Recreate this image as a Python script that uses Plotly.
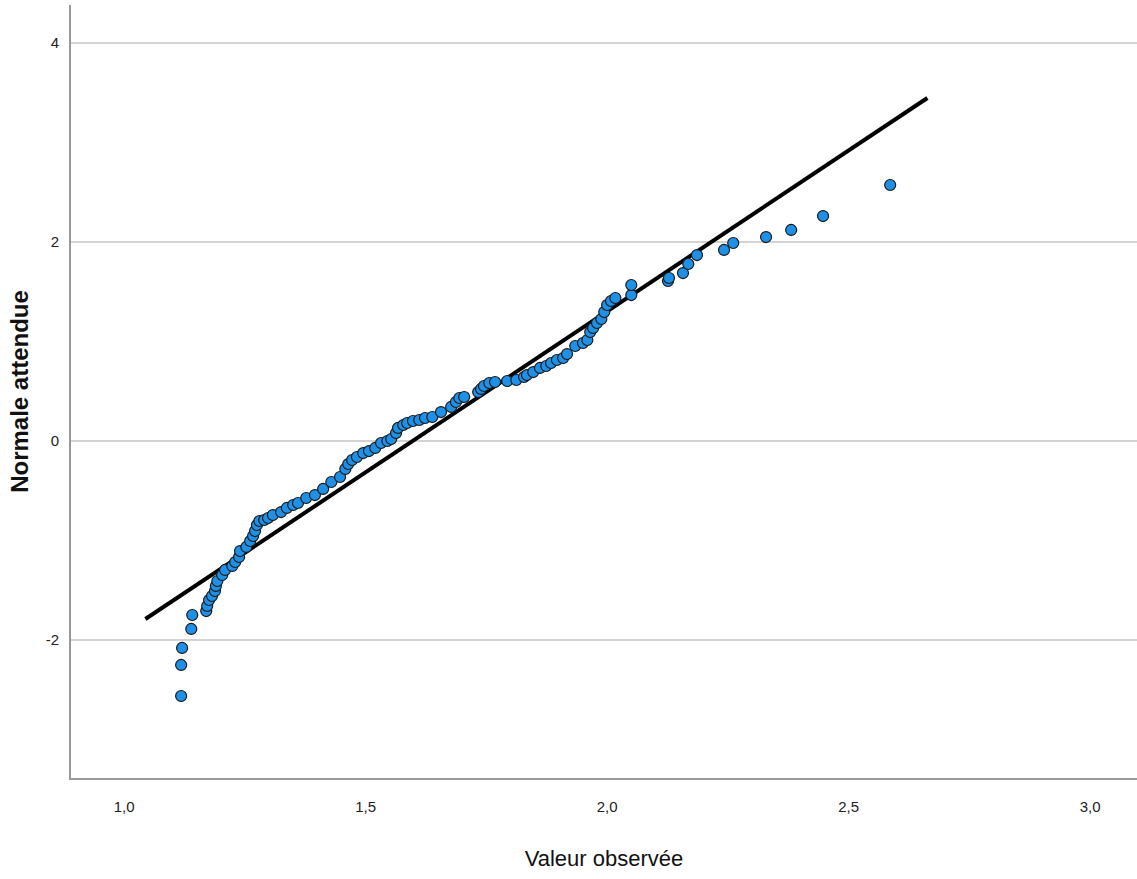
import plotly.graph_objects as go

# Observed values (x) and expected normal values (y)
obs = [1.118, 1.118, 1.120, 1.139, 1.141, 1.170, 1.172, 1.176, 1.182, 1.188,
       1.190, 1.193, 1.203, 1.209, 1.224, 1.230, 1.238, 1.240, 1.253, 1.261,
       1.267, 1.271, 1.275, 1.280, 1.290, 1.298, 1.308, 1.325, 1.337, 1.350,
       1.360, 1.377, 1.395, 1.412, 1.429, 1.447, 1.458, 1.464, 1.472, 1.482,
       1.495, 1.507, 1.520, 1.532, 1.545, 1.553, 1.563, 1.567, 1.578, 1.586,
       1.598, 1.611, 1.623, 1.638, 1.656, 1.677, 1.687, 1.694, 1.704, 1.733,
       1.739, 1.745, 1.756, 1.768, 1.793, 1.812, 1.828, 1.834, 1.847, 1.861,
       1.874, 1.884, 1.896, 1.909, 1.917, 1.934, 1.950, 1.959, 1.965, 1.971,
       1.979, 1.988, 1.994, 2.000, 2.008, 2.017, 2.050, 2.050, 2.126, 2.128,
       2.157, 2.168, 2.186, 2.242, 2.261, 2.329, 2.381, 2.447, 2.586]
expected = [-2.563, -2.251, -2.080, -1.889, -1.749, -1.709, -1.658, -1.598, -1.558, -1.508,
            -1.457, -1.407, -1.347, -1.296, -1.256, -1.216, -1.166, -1.106, -1.065, -1.005,
            -0.955, -0.905, -0.844, -0.804, -0.794, -0.774, -0.744, -0.714, -0.673, -0.643,
            -0.623, -0.573, -0.543, -0.482, -0.412, -0.362, -0.281, -0.231, -0.191, -0.161,
            -0.121, -0.101, -0.070, -0.020, 0.000, 0.020, 0.080, 0.131, 0.161, 0.181,
            0.201, 0.211, 0.231, 0.241, 0.291, 0.342, 0.392, 0.432, 0.442, 0.492,
            0.523, 0.553, 0.583, 0.593, 0.603, 0.613, 0.643, 0.663, 0.693, 0.734,
            0.754, 0.784, 0.814, 0.834, 0.874, 0.955, 0.985, 1.015, 1.095, 1.136,
            1.186, 1.226, 1.296, 1.367, 1.407, 1.437, 1.467, 1.568, 1.608, 1.638,
            1.688, 1.779, 1.869, 1.920, 1.990, 2.050, 2.121, 2.261, 2.573]

# Reference line endpoints
line_x = [1.044, 2.663]
line_y = [-1.789, 3.447]

x_ticks = [1.0, 1.5, 2.0, 2.5, 3.0]
y_ticks = [-2, 0, 2, 4]
y_tick_labels = ["-2", "0", "2", "4"]

fig = go.Figure()
fig.add_trace(go.Scatter(
    x=line_x, y=line_y, mode="lines",
    line=dict(color="black", width=4), showlegend=False, hoverinfo="skip"))
fig.add_trace(go.Scatter(
    x=obs, y=expected, mode="markers",
    marker=dict(size=11, color="#1E90E6", line=dict(color="#1a1a1a", width=1.2)),
    showlegend=False))

font_narrow = "Liberation Sans Narrow, Arial Narrow, Liberation Sans, Arial, sans-serif"

fig.update_layout(
    width=1137, height=879,
    margin=dict(l=71, r=0, t=5, b=101),
    paper_bgcolor="white", plot_bgcolor="white",
    separators=", ",
    xaxis=dict(
        range=[0.890, 3.097], tickvals=x_ticks, tickformat=".1f",
        showgrid=False, zeroline=False,
        showline=True, linecolor="#999999", linewidth=2,
        ticks="", ticklabelstandoff=14,
        tickfont=dict(family=font_narrow, size=15, color="#222222"),
        title=dict(text="Valeur observée", standoff=37,
                   font=dict(family=font_narrow, size=22, color="#111111")),
    ),
    yaxis=dict(
        range=[-3.387, 4.382], tickvals=y_ticks, ticktext=y_tick_labels,
        showgrid=True, gridcolor="#d3d3d3", gridwidth=2, zeroline=False,
        showline=True, linecolor="#999999", linewidth=2,
        ticks="", ticklabelstandoff=7,
        tickfont=dict(family=font_narrow, size=15, color="#222222"),
        title=dict(text="<b>Normale attendue</b>", standoff=10,
                   font=dict(family="Liberation Sans, Arial, sans-serif", size=24, color="#111111")),
    ),
)

fig.write_html("out.html", config={"displayModeBar": False},
               post_script="document.body.style.margin='0';")
